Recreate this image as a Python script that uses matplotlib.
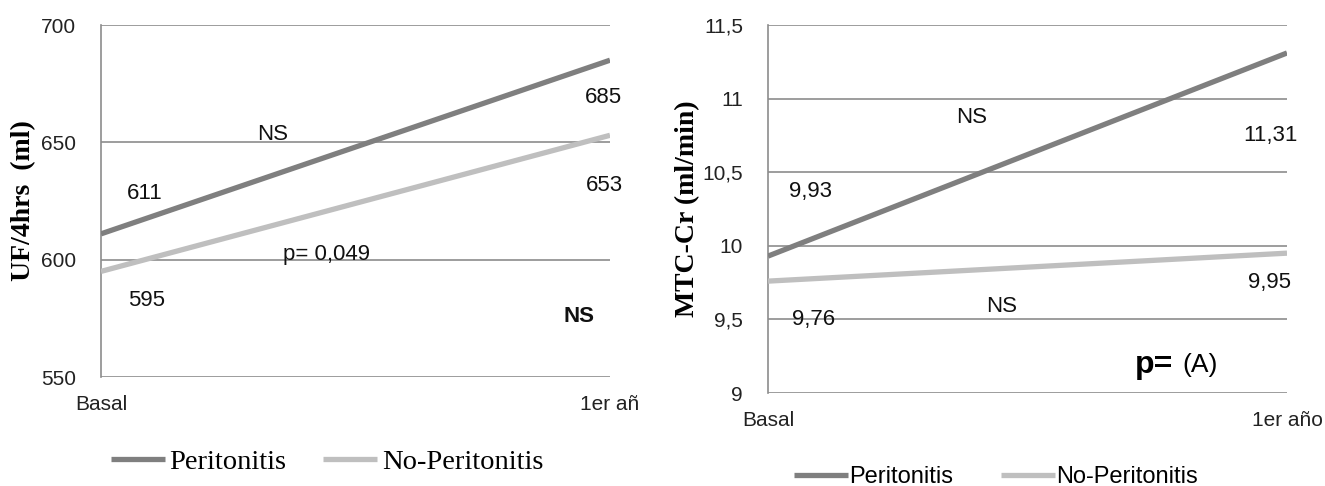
import matplotlib.pyplot as plt

# data
periods = ['Basal', '1er año']
left_period_labels = ['Basal', '1er añ']
uf_peritonitis = [611, 685]
uf_no_peritonitis = [595, 653]
mtc_peritonitis = [9.93, 11.31]
mtc_no_peritonitis = [9.76, 9.95]
uf_ticks = [550, 600, 650, 700]
mtc_ticks = [9, 9.5, 10, 10.5, 11, 11.5]
mtc_tick_labels = ['9', '9,5', '10', '10,5', '11', '11,5']
series_names = ['Peritonitis', 'No-Peritonitis']

dark = '#7f7f7f'
light = '#bfbfbf'
grid_col = '#8c8c8c'
sans = 'Liberation Sans'
serif = 'Liberation Serif'


def fmt(v):
    return f'{v:g}'.replace('.', ',')


def style_axes(ax, ticks, ticklabels, xlabels, ylim):
    ax.set_xlim(0, 1)
    ax.set_ylim(*ylim)
    ax.set_yticks(ticks)
    ax.set_yticklabels(ticklabels, fontsize=15, family=sans, color='#222222')
    ax.set_xticks([0, 1])
    ax.set_xticklabels(xlabels, fontsize=15, family=sans, color='#222222')
    ax.tick_params(axis='y', length=0, pad=18)
    ax.tick_params(axis='x', length=0, pad=13)
    for t in ticks:
        ax.axhline(t, color=grid_col, lw=1.2, zorder=1)
    for s in ['top', 'right', 'bottom']:
        ax.spines[s].set_visible(False)
    ax.spines['left'].set_color(grid_col)
    ax.spines['left'].set_linewidth(1.2)


fig = plt.figure(figsize=(13.25, 4.86), dpi=100)
kw = dict(fontsize=16, family=sans, ha='center', va='center', color='#111111')

# ---- left chart: UF
x = range(len(periods))
ax1 = fig.add_axes([101 / 1325, 1 - 377 / 486, 509 / 1325, 352 / 486])
l1, = ax1.plot(x, uf_peritonitis, color=dark, lw=3.8, solid_capstyle='butt', zorder=3)
l2, = ax1.plot(x, uf_no_peritonitis, color=light, lw=3.8, solid_capstyle='butt', zorder=3)
style_axes(ax1, uf_ticks, [str(t) for t in uf_ticks], left_period_labels, (550, 700))
ax1.set_ylabel('UF/4hrs  (ml)', fontsize=20, family=serif, fontweight='bold')
ax1.yaxis.set_label_coords(-0.128, 0.5)

ax1.text(0.086, 628.4, str(uf_peritonitis[0]), **kw)
ax1.text(0.09, 582.8, str(uf_no_peritonitis[0]), **kw)
ax1.text(0.988, 669.3, str(uf_peritonitis[1]), **kw)
ax1.text(0.99, 631.8, str(uf_no_peritonitis[1]), **kw)
ax1.text(0.337, 653.5, 'NS', **kw)
ax1.text(0.444, 602, 'p= 0,049', **kw)
ax1.text(0.94, 575.6, 'NS', fontweight='bold', **kw)

ax1.legend([l1, l2], series_names, loc='center', bbox_to_anchor=(327 / 1325, 1 - 462 / 486),
           bbox_transform=fig.transFigure, ncol=2, frameon=False,
           prop={'family': serif, 'size': 20.5}, handlelength=1.9, handletextpad=0.15,
           columnspacing=1.3)

# ---- right chart: MTC-Cr
ax2 = fig.add_axes([768 / 1325, 1 - 393 / 486, 519 / 1325, 368 / 486])
r1, = ax2.plot(x, mtc_peritonitis, color=dark, lw=3.8, solid_capstyle='butt', zorder=3)
r2, = ax2.plot(x, mtc_no_peritonitis, color=light, lw=3.8, solid_capstyle='butt', zorder=3)
style_axes(ax2, mtc_ticks, mtc_tick_labels, periods, (9, 11.5))
ax2.set_ylabel('MTC-Cr (ml/min)', fontsize=20, family=serif, fontweight='bold')
ax2.yaxis.set_label_coords(-0.13, 0.5)

ax2.text(0.081, 10.37, fmt(mtc_peritonitis[0]), **kw)
ax2.text(0.087, 9.50, fmt(mtc_no_peritonitis[0]), **kw)
ax2.text(0.969, 10.75, fmt(mtc_peritonitis[1]), **kw)
ax2.text(0.967, 9.75, fmt(mtc_no_peritonitis[1]), **kw)
ax2.text(0.393, 10.87, 'NS', **kw)
ax2.text(0.451, 9.59, 'NS', **kw)
ax2.text(0.707, 9.19, 'p=', fontsize=23, family=sans, fontweight='bold', ha='left', va='center')
ax2.text(0.798, 9.19, '(A)', fontsize=19, family=sans, ha='left', va='center')

ax2.legend([r1, r2], series_names, loc='center', bbox_to_anchor=(996 / 1325, 1 - 477 / 486),
           bbox_transform=fig.transFigure, ncol=2, frameon=False,
           prop={'family': sans, 'size': 17}, handlelength=2.3, handletextpad=0.05,
           columnspacing=2.0)

fig.savefig('out.png', dpi=100)
